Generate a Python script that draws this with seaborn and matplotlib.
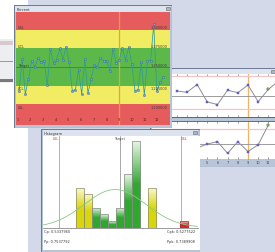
import numpy as np
import matplotlib
matplotlib.use("Agg")
import matplotlib.pyplot as plt
import seaborn as sns
from matplotlib.patches import Rectangle
from matplotlib.colors import LinearSegmentedColormap

# --- "Percent" control chart (top left window) ---
pct_values = [1.2184, 1.2607, 1.2139, 1.2340, 1.2585, 1.2496, 1.2616, 1.2563, 1.2585, 1.2259,
              1.2741, 1.2553, 1.2598, 1.2750, 1.2598, 1.2772, 1.2563, 1.2184, 1.2197, 1.2464,
              1.2139, 1.2607, 1.2148, 1.2340, 1.2527, 1.2505, 1.2616, 1.2585, 1.2576, 1.2451,
              1.2741, 1.2553, 1.2598, 1.2750, 1.2598, 1.2763, 1.2540, 1.2184, 1.2197, 1.2563,
              1.2126, 1.2585, 1.2585, 1.3075, 1.2175, 1.2295, 1.2367]
pct_ticks = list(range(1, 13))
limit_values = [1.300, 1.275, 1.250, 1.225, 1.200]
limit_names = ["USL", "UCL", "Target", "LCL", "LSL"]
limit_text = ["1.300000", "1.275000", "1.250000", "1.225000", "1.200000"]

# --- Xbar / range chart (right window) ---
xbar_x = [2, 3, 4, 5, 6, 7, 8, 9, 10, 11, 12]
xbar_vals = [1.2545, 1.2532, 1.2610, 1.2435, 1.2410, 1.2553, 1.2528, 1.2605, 1.2438, 1.2561, 1.2645]
xbar_limits = [1.2695, 1.2370]
xbar_center = 1.25
range_x = [4, 5, 6, 7, 8, 9, 10, 11]
range_vals = [0.0160, 0.0200, 0.0223, 0.0107, 0.0223, 0.0125, 0.0193, 0.0390]
range_limit = 0.0355
range_center = 0.02
right_ticks = [5, 6, 7, 8, 9, 10, 11]
marked_sample = 9

# --- Histogram window ---
hist_centers = [1.2170, 1.2236, 1.2302, 1.2368, 1.2434, 1.2500, 1.2566, 1.2632, 1.2764, 1.3027]
hist_counts = [6, 5, 3, 2, 1, 3, 8, 13, 6, 1]
bin_width = 0.0066
fit_mean, fit_sigma, fit_peak = 1.246, 0.0255, 5.7
stats_left = ["Cp: 0.5337960", "Pp: 0.7537792"]
stats_right = ["Cpk: 0.5277522", "Ppk: 0.7389908"]

sns.set_style("white")
plt.rcParams["font.family"] = ["DejaVu Sans"]

W, H = 275, 253
fig = plt.figure(figsize=(W / 100, H / 100), dpi=100)

RED, YEL, GRN = "#e65c5c", "#f1ec62", "#5db84a"
LAV = "#d4d9ea"


def px_axes(x0, y0, x1, y1):
    return fig.add_axes([x0 / W, 1 - y1 / H, (x1 - x0) / W, (y1 - y0) / H])


def window(x0, y0, x1, y1, title, bar_h=6.5):
    ax = px_axes(x0, y0, x1, y1)
    w, h = x1 - x0, y1 - y0
    ax.set_xlim(0, w)
    ax.set_ylim(h, 0)
    ax.axis("off")
    ax.add_patch(Rectangle((0, 0), w, h, facecolor="#b8c5d9", edgecolor="#6c7c97", lw=0.8))
    ax.add_patch(Rectangle((1.5, 1), w - 3, bar_h - 1, facecolor="#dde4f0", lw=0))
    ax.text(3, bar_h / 2 + 0.6, title, fontsize=2.6, va="center", color="#333333")
    ax.add_patch(Rectangle((w - 6.5, 1.6), 4, 3.6, facecolor="#a9b5c9", edgecolor="#6a6a6a", lw=0.4))
    return ax


# background
bg = px_axes(0, 0, W, H)
bg.set_xlim(0, W)
bg.set_ylim(H, 0)
bg.axis("off")
bg.add_patch(Rectangle((0, 0), 28, H, facecolor="white", lw=0))
bg.add_patch(Rectangle((28, 0), W - 28, H, facecolor=LAV, lw=0))
bg.add_patch(Rectangle((0, 40), 13, 44, facecolor="#eceef2", lw=0))
bg.add_patch(Rectangle((0, 42), 13, 4, facecolor="#d9c9cf", lw=0))
bg.add_patch(Rectangle((0, 62), 13, 1.2, facecolor="#9a9a9a", lw=0))
bg.add_patch(Rectangle((0, 80), 13, 2.5, facecolor="#7a7a7a", lw=0))

# ---------- right window ----------
window(150, 69, 277, 168, "")
top = px_axes(152, 74.5, 277, 117.5)
bot = px_axes(152, 121.5, 277, 160)
xl = (-0.43, 11.85)
for ax in (top, bot):
    ax.set_facecolor("white")
    ax.set_xlim(*xl)
    for s in ax.spines.values():
        s.set_visible(False)
    ax.axvline(marked_sample, color="#f2b266", lw=0.9, zorder=1)
    ax.set_xticks(range(0, 12))
    ax.set_yticks([])
    ax.tick_params(axis="x", which="both", direction="in", length=1.5, width=0.4,
                   colors="#555555", labelbottom=False, labeltop=False, top=True, bottom=True)
top.spines["bottom"].set_visible(True)
top.spines["bottom"].set_color("#555555")
top.spines["bottom"].set_linewidth(0.6)
bot.spines["top"].set_visible(True)
bot.spines["top"].set_color("#555555")
bot.spines["top"].set_linewidth(0.6)

top.set_ylim(1.229, 1.272)
for v in xbar_limits:
    top.axhline(v, color="#f3c6c6", lw=0.9, zorder=1)
top.axhline(xbar_center, color="#9c9c9c", lw=0.7, zorder=1)
sns.lineplot(x=xbar_x, y=xbar_vals, ax=top, color="#8d8d99", lw=0.7, marker="s",
             markersize=1.6, markerfacecolor="#6b6bd6", markeredgecolor="#5050b0",
             markeredgewidth=0.3, zorder=3)
sns.scatterplot(x=[xbar_x[-2]], y=[xbar_vals[-2]], ax=top, color="#92b83e", marker="s",
                s=3, linewidth=0.3, edgecolor="#5f8a20", zorder=4)

bot.set_ylim(0.005, 0.0435)
bot.axhline(range_limit, color="#f3c6c6", lw=0.9, zorder=1)
bot.axhline(range_center, color="#9c9c9c", lw=0.7, zorder=1)
sns.lineplot(x=range_x, y=range_vals, ax=bot, color="#8d8d99", lw=0.7, marker="s",
             markersize=1.6, markerfacecolor="#6b6bd6", markeredgecolor="#5050b0",
             markeredgewidth=0.3, zorder=3)
sns.scatterplot(x=[range_x[-1]], y=[range_vals[-1]], ax=bot, color="#92b83e", marker="s",
                s=3, linewidth=0.3, edgecolor="#5f8a20", zorder=4)
for t in right_ticks:
    bot.text(t, -0.08, str(t), transform=bot.get_xaxis_transform(), fontsize=2.6,
             ha="center", va="center", color="#444444")
for ax in (top, bot):
    ax.set_xlabel("")
    ax.set_ylabel("")

# ---------- Percent window ----------
window(13.5, 6, 172, 128.5, "Percent")
pc = px_axes(16, 13, 170, 126)
pc.set_xlim(0.88, 13.0)
pc.set_ylim(1.1725, 1.3235)
for s in pc.spines.values():
    s.set_visible(False)
pc.axhspan(1.30, 1.40, color=RED, lw=0)
pc.axhspan(1.275, 1.30, color=YEL, lw=0)
pc.axhspan(1.225, 1.275, color=GRN, lw=0)
pc.axhspan(1.20, 1.225, color=YEL, lw=0)
pc.axhspan(1.10, 1.20, color=RED, lw=0)
pc.axhline(1.25, color="#3c8c3c", lw=0.7)
pc.axvline(marked_sample, color="#e7a23c", lw=0.9)
pct_x = np.linspace(1.12, 12.46, len(pct_values))
sns.lineplot(x=pct_x, y=pct_values, ax=pc, color="#2f9c96", lw=0.55, marker="o",
             markersize=1.6, markerfacecolor="#7aa8e6", markeredgecolor="#2f5da8",
             markeredgewidth=0.3, zorder=3)
pc.set_xlabel("")
pc.set_ylabel("")
pc.set_yticks([])
pc.set_xticks(pct_ticks)
pc.tick_params(axis="x", direction="in", length=1.6, width=0.4, colors="#5a2020",
               labelbottom=False, bottom=False, top=True)
ytr = pc.get_yaxis_transform()
for t in pct_ticks:
    pc.text(t, 1.1805, str(t), fontsize=2.6, ha="center", va="center", color="#6a1a1a")
for v, name, txt in zip(limit_values, limit_names, limit_text):
    above = v >= 1.25
    va = "bottom" if above else "top"
    off = 0.0006 if above else -0.0006
    pc.text(0.01, v + off, name, transform=ytr, fontsize=2.5, ha="left", va=va, color="#3a3a3a")
    pc.text(0.985, v + off, txt, transform=ytr, fontsize=2.5, ha="right", va=va, color="#3a3a3a")

# ---------- Histogram window ----------
hw = window(41, 130, 199.5, 254, "Histogram")
hw.add_patch(Rectangle((2, 6.5), 156.5, 114, facecolor="white", lw=0))
for i, s in enumerate(stats_left):
    hw.text(3.5, 102.5 + 10 * i, s, fontsize=2.5, va="center", ha="left", color="#333333")
for i, s in enumerate(stats_right):
    hw.text(154, 102.5 + 10 * i, s, fontsize=2.5, va="center", ha="right", color="#333333")

hx = px_axes(43, 136.5, 197.5, 228.5)
hx.set_facecolor("white")
xlo, xhi = 1.1866, 1.3139
for s in ["top", "left", "right"]:
    hx.spines[s].set_visible(False)
hx.spines["bottom"].set_color("#8a8a8a")
hx.spines["bottom"].set_linewidth(0.6)
hx.set_xticks([])
hx.set_yticks([])


def band_color(v):
    if v > 1.30 or v < 1.20:
        return "#dc2424", "#f8d8d8", "#9a3030"
    if v > 1.275 or v < 1.225:
        return "#d9d60a", "#f8f8d0", "#8a8a70"
    return "#2fa82f", "#e6f5e2", "#8a8a8a"


for c, n in zip(hist_centers, hist_counts):
    dark, light, edge = band_color(c)
    cmap = LinearSegmentedColormap.from_list("g", [dark, dark, light])
    x0 = c - bin_width / 2
    im = hx.imshow(np.linspace(0, 1, 64).reshape(-1, 1), extent=[x0, x0 + bin_width, 0, n],
                   origin="lower", aspect="auto", cmap=cmap, zorder=2)
    rect = Rectangle((x0, 0), bin_width, n, facecolor="none", edgecolor=edge, lw=0.5, zorder=3)
    hx.add_patch(rect)
    im.set_clip_path(rect)

fx = np.linspace(xlo, xhi, 300)
fy = fit_peak * np.exp(-0.5 * ((fx - fit_mean) / fit_sigma) ** 2)
sns.lineplot(x=fx, y=fy, ax=hx, color="#86c986", lw=0.6, zorder=4)
hx.axvline(limit_values[4], color="#e58a8a", lw=0.6, zorder=1)
hx.axvline(limit_values[2], color="#9a9a9a", lw=0.6, zorder=1)
hx.axvline(limit_values[0], color="#e58a8a", lw=0.6, zorder=1)
htr = hx.get_xaxis_transform()
hx.text(limit_values[4], 0.975, "LSL", transform=htr, fontsize=2.5, ha="right", va="center", color="#d04040")
hx.text(limit_values[2], 0.975, "Target", transform=htr, fontsize=2.5, ha="center", va="center", color="#444444")
hx.text(limit_values[0], 0.975, "USL", transform=htr, fontsize=2.5, ha="left", va="center", color="#d04040")
hx.set_xlim(xlo, xhi)
hx.set_ylim(0, 13.8)
hx.set_xlabel("")
hx.set_ylabel("")

fig.savefig("out.png", dpi=100)
